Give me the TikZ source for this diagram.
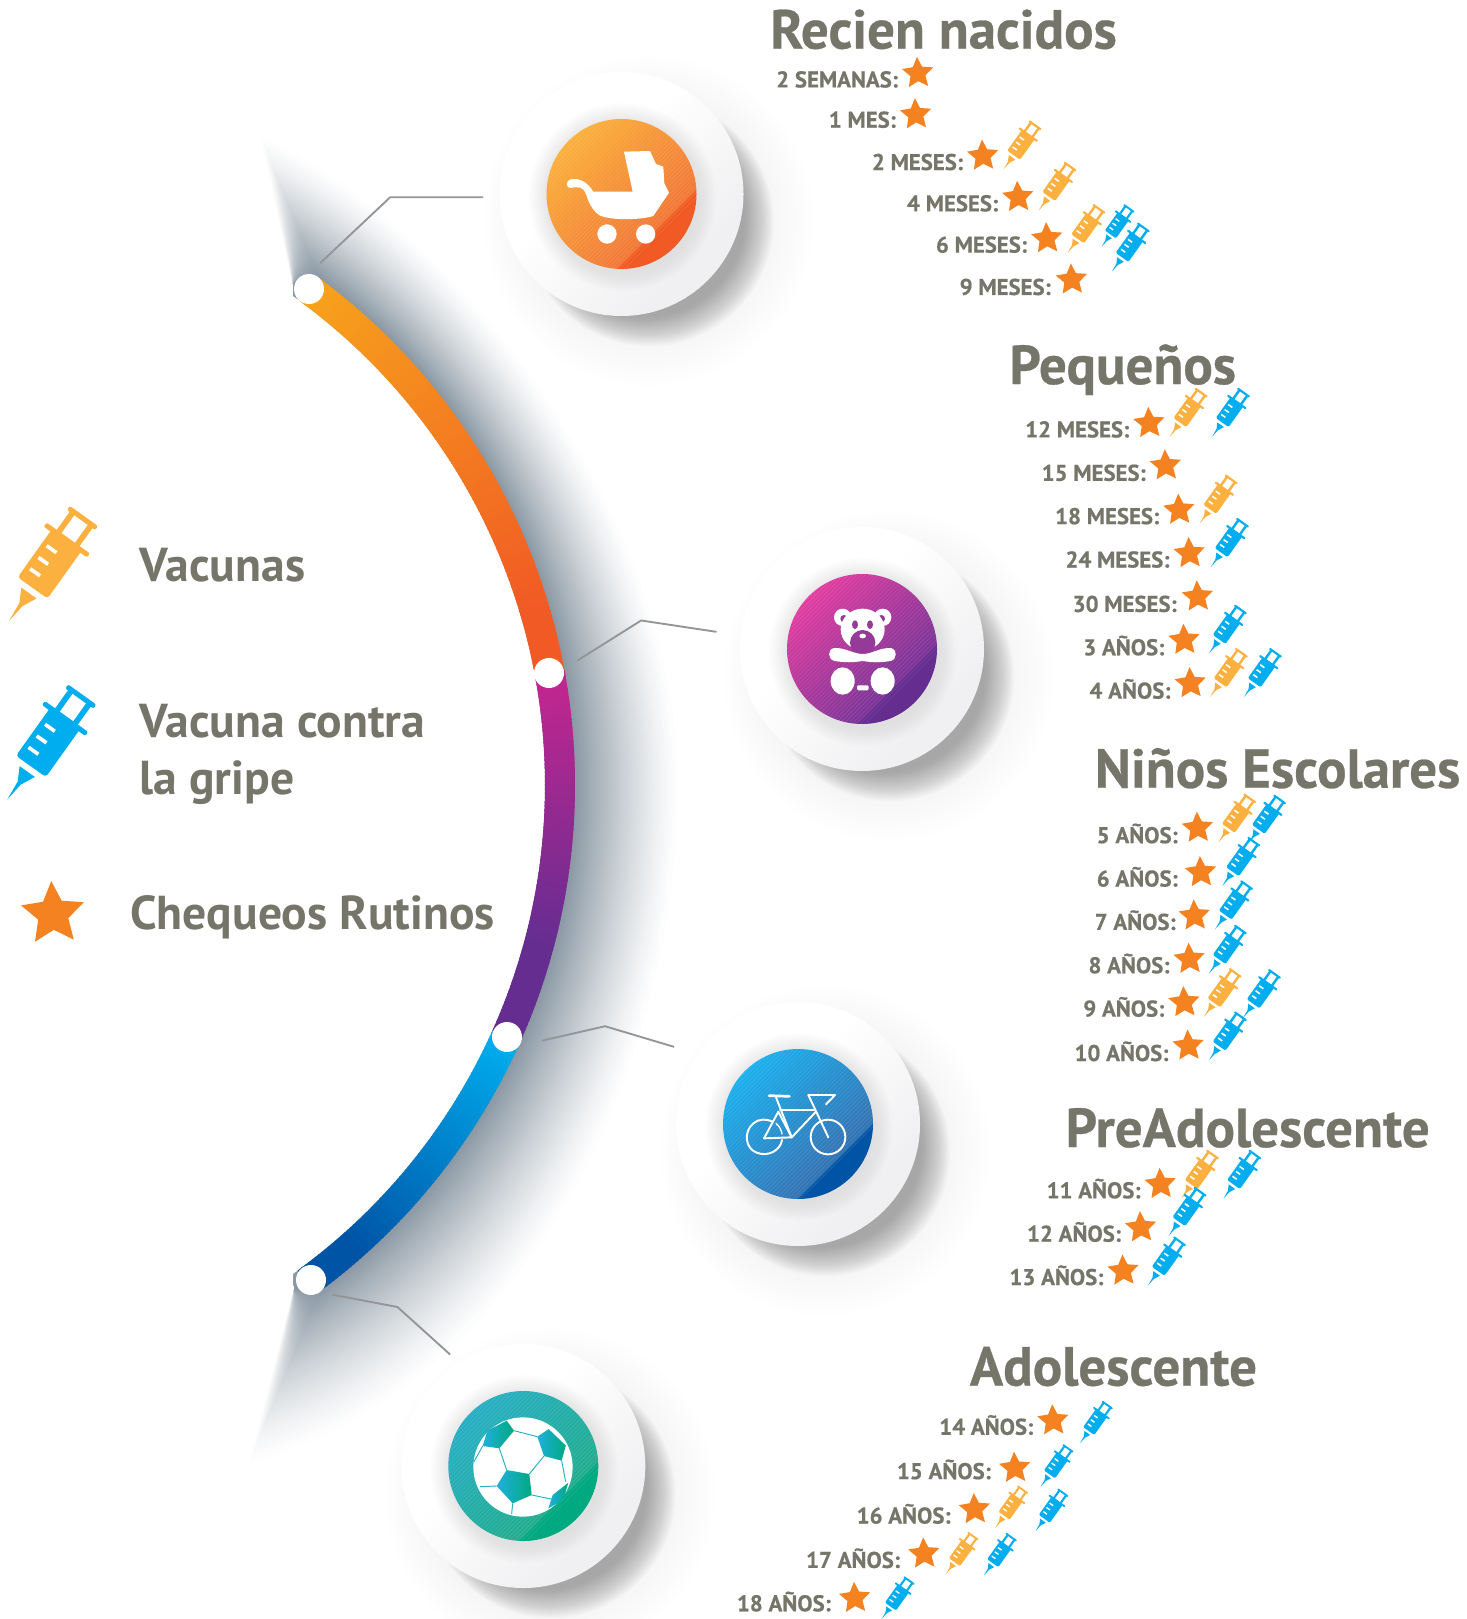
\documentclass[tikz,border=0pt]{standalone}
\usepackage{fontspec}
\setmainfont{PT Sans}
\newfontfamily\heavyf[BoldFeatures={FakeBold=0.5}]{PT Sans}
\usetikzlibrary{calc}
\definecolor{txtc}{HTML}{75756A}
\definecolor{starc}{HTML}{F58220}
\definecolor{syrO}{HTML}{FBB040}
\definecolor{syrB}{HTML}{00AEEF}
\definecolor{shadc}{HTML}{8A98A3}
\definecolor{linec}{HTML}{939598}
\definecolor{a1}{HTML}{F7A31C}\definecolor{a2}{HTML}{F15A24}
\definecolor{b1}{HTML}{C4268F}\definecolor{b2}{HTML}{662D91}
\definecolor{d1c}{HTML}{00AEEF}\definecolor{d2c}{HTML}{0054A6}
\definecolor{oA}{HTML}{FBB03B}\definecolor{oM}{HTML}{F27A38}\definecolor{oB}{HTML}{F15A24}
\definecolor{pA}{HTML}{E23DA0}\definecolor{pM}{HTML}{7C3598}\definecolor{pB}{HTML}{662D91}
\definecolor{uA}{HTML}{1CB0EE}\definecolor{uM}{HTML}{3474B4}\definecolor{uB}{HTML}{0054A6}
\definecolor{gA}{HTML}{27AFC4}\definecolor{gM}{HTML}{22AD90}\definecolor{gB}{HTML}{00A97F}
\definecolor{discE}{HTML}{F0F0F2}
\pgfdeclarehorizontalshading{shO}{100bp}{color(0bp)=(oA);color(25bp)=(oA);color(66bp)=(oM);color(67bp)=(oB);color(100bp)=(oB)}
\pgfdeclarehorizontalshading{shP}{100bp}{color(0bp)=(pA);color(25bp)=(pA);color(66bp)=(pM);color(67bp)=(pB);color(100bp)=(pB)}
\pgfdeclarehorizontalshading{shU}{100bp}{color(0bp)=(uA);color(25bp)=(uA);color(67bp)=(uM);color(68bp)=(uB);color(100bp)=(uB)}
\pgfdeclarehorizontalshading{shG}{100bp}{color(0bp)=(gA);color(25bp)=(gA);color(66bp)=(gM);color(67bp)=(gB);color(100bp)=(gB)}
\pgfdeclarehorizontalshading{shD}{100bp}{color(0bp)=(white);color(42bp)=(white);color(70bp)=(discE);color(100bp)=(discE)}
\newcounter{rn}
\tikzset{
  titlet/.style={text=txtc,inner sep=0pt,font=\fontsize{41.2}{44}\selectfont\heavyf\bfseries},
  rowt/.style={text=txtc,inner sep=0pt,font=\fontsize{17.1}{19}\selectfont\heavyf\bfseries},
  legt/.style={text=txtc,inner sep=0pt,font=\fontsize{35.7}{38}\selectfont\bfseries},
  dotn/.style={circle,fill=white,draw=none,inner sep=0pt,minimum size=22.5pt},
  callout/.style={draw=linec,line width=1.4pt,line cap=butt,line join=miter},
  ballseam/.style={draw=gA,line width=.7pt}
}
% star: x, y, outer radius in pt
\newcommand\vstar[3]{\fill[starc,shift={(#1,#2)},x=#3pt,y=#3pt,rotate=3]
 (0,1)--(.282,.388)--(.951,.309)--(.457,-.148)--(.588,-.809)--(0,-.48)--(-.588,-.809)--(-.457,-.148)--(-.951,.309)--(-.282,.388)--cycle;}
% syringe: tip x, tip y, unit in pt, colour
\newcommand\syr[4]{\begin{scope}[shift={(#1,#2)},x=#3pt,y=#3pt,rotate=-35.5]
 \fill[#4] (0,0)--(7,60)--(28,103)--(-28,103)--(-6,62)--cycle;
 \fill[#4,rounded corners={10*#3 pt}] (-55,122) rectangle (55,302);
 \fill[#4,rounded corners={6*#3 pt}] (-80,291) rectangle (80,306);
 \fill[#4] (-42,300) rectangle (-25,375);
 \fill[#4] (25,300) rectangle (42,375);
 \fill[#4,rounded corners={6*#3 pt}] (-52,372) rectangle (52,387);
 \fill[white] (-39,244) rectangle (-3,255);
 \fill[white] (-39,201) rectangle (-3,212);
 \fill[white] (-39,159) rectangle (-3,170);
\end{scope}}
\newcommand\Sy[3]{\syr{#1}{#2}{.107}{#3}}
\newcommand\Sz[3]{\syr{#1}{#2}{.093}{#3}}
% row label in reference-view pixels
\newcommand\rowl[3]{\stepcounter{rn}\node[rowt,anchor=base east] (row\arabic{rn}) at (#1,#2+7.7) {#3};}
\newcommand\st[2]{\vstar{#1}{#2}{12.3}}
% button: centre x,y, shading
\newcommand\btn[3]{%
 \foreach \i in {0,...,9}{\pgfmathsetmacro\rr{165-\i*4.5}\pgfmathsetmacro\dd{27-\i*.3}
   \fill[black!60,fill opacity=.005] ($(#1+\dd,#2+\dd)$) circle (\rr);}
 \foreach \i in {0,...,23}{\pgfmathsetmacro\rr{124-\i}\pgfmathsetmacro\dd{28-\i*.25}
   \fill[black!60,fill opacity=.028] ($(#1+\dd,#2+\dd)$) circle (\rr);}
 \shade[shading=shD,shading angle=-45] (#1,#2) circle (122);
 \foreach \i in {0,...,11}{\pgfmathsetmacro\rr{94-\i*1.6}
   \fill[black!60,fill opacity=.007] ($(#1+1,#2+3)$) circle (\rr);}
 \shade[shading=#3,shading angle=-45] (#1,#2) circle (75);
 \begin{scope}
  \clip (#1,#2) circle (75);
  \foreach \k in {-74,-71,...,55}{
   \draw[white,line width=.45pt,opacity=.11] ($(#1+\k*.707+80*.707,#2+\k*.707-80*.707)$) -- ($(#1+\k*.707-80*.707,#2+\k*.707+80*.707)$);}
 \end{scope}}
% colour band piece: first, second, last angle, start colour, end colour, fraction of the way where it ends
\newcommand\bandseg[6]{\foreach \t in {#1,#2,...,#3}{
  \pgfmathsetmacro\pp{min(100,100*(\t-#1)/((#3-#1)*#6))}
  \fill[fill=#5!\pp!#4] ({-55+600*cos(\t)},{785+600*sin(\t)}) -- ({-55+630*cos(\t)},{785+630*sin(\t)})
     -- ({-55+630*cos(\t+.6)},{785+630*sin(\t+.6)}) -- ({-55+600*cos(\t+.6)},{785+600*sin(\t+.6)}) -- cycle;}}
\begin{document}
\begin{tikzpicture}[x=.75pt,y=-.75pt]
\useasboundingbox (0,0) rectangle (1466,1619);
\fill[white] (0,0) rectangle (1466,1619);
% soft shadow of the arc
\coordinate (sL1) at (293,284); \coordinate (sL2) at (294,1290);
\foreach \i in {60,59,...,0}{
 \pgfmathsetmacro\s{\i/60}
 \pgfmathsetmacro\pc{100*(1-\s)^1.25}
 \coordinate (a1p) at ({(1-\s)*318+\s*260},{(1-\s)*277+\s*135});
 \coordinate (a2p) at ({(1-\s)*479+\s*460},{(1-\s)*395+\s*225});
 \coordinate (a3p) at ({(1-\s)*575+\s*680},{(1-\s)*585+\s*520});
 \coordinate (a4p) at ({(1-\s)*575+\s*680},785);
 \coordinate (a5p) at ({(1-\s)*575+\s*680},{(1-\s)*985+\s*1080});
 \coordinate (a6p) at ({(1-\s)*481+\s*515},{(1-\s)*1172+\s*1395});
 \coordinate (a7p) at ({(1-\s)*320+\s*248},{(1-\s)*1291+\s*1466});
 \fill[fill=shadc!\pc!white] (a1p) .. controls (a2p) and (a3p) .. (a4p) .. controls (a5p) and (a6p) .. (a7p) -- (sL2) -- (sL1) -- cycle;
}
\fill[white] (-55,785) circle (600);
% coloured arc
\bandseg{-53.7}{-53.3}{-10.5}{a1}{a2}{.85}
\bandseg{-10.5}{-10.1}{24.2}{b1}{b2}{.72}
\bandseg{24.2}{24.6}{53.5}{d1c}{d2c}{.82}
% dots
\node[dotn] (d1) at (309,289) {};
\node[dotn] (d2) at (549,673) {};
\node[dotn] (d3) at (507,1037) {};
\node[dotn] (d4) at (311,1280) {};
% callouts
\begin{scope}[x=.7743pt,y=-.7743pt]
\coordinate (c1a) at (310,255); \coordinate (c1b) at (378,191); \coordinate (c1c) at (468,191);
\coordinate (c2a) at (559,640); \coordinate (c2b) at (621,601); \coordinate (c2c) at (694,612);
\coordinate (c3a) at (525,1008); \coordinate (c3b) at (586,994); \coordinate (c3c) at (653,1014);
\coordinate (c4a) at (322,1254); \coordinate (c4b) at (385,1266); \coordinate (c4c) at (436,1312);
\end{scope}
\draw[callout] (c1a) -- (c1b) -- (c1c);
\draw[callout] (c2a) -- (c2b) -- (c2c);
\draw[callout] (c3a) -- (c3b) -- (c3c);
\draw[callout] (c4a) -- (c4b) -- (c4c);
% buttons
\btn{621.5}{194}{shO}
\btn{862}{649}{shP}
\btn{798}{1124}{shU}
\btn{523.3}{1466}{shG}
% pram
\begin{scope}[shift={(480,70)},x=.25pt,y=-.25pt]
 \fill[white] (340,365) -- (458,365) -- (432,245) -- (510,243) -- (528,282) -- (550,290) -- (553,340) -- (567,368)
   -- (520,438) .. controls (480,450) and (400,452) .. (360,437)
   .. controls (335,420) and (325,395) .. (318,372) .. controls (312,352) and (295,348) .. (272,354)
   .. controls (258,356) and (256,332) .. (272,328) .. controls (300,322) and (325,340) .. (340,365) -- cycle;
 \fill[white] (381,492) circle (29);
 \fill[white] (497,492) circle (29);
\end{scope}
% teddy
\definecolor{tedc}{HTML}{963A9A}
\begin{scope}[shift={(730,530)},x=.25pt,y=-.25pt]
 \fill[white] (338,262) circle (26); \fill[white] (458,262) circle (26);
 \fill[tedc] (342,266) circle (11); \fill[tedc] (454,266) circle (11);
 \fill[white] (398,298) ellipse (66 and 62);
 \fill[tedc] (398,338) circle (38);
 \fill[tedc] (375,284) ellipse (9 and 13); \fill[tedc] (420,284) ellipse (9 and 13);
 \fill[white] (398,318) ellipse (10 and 7);
 \fill[white] (312,354) .. controls (345,352) and (370,372) .. (398,372) .. controls (426,372) and (450,352) .. (484,354)
    .. controls (502,358) and (502,388) .. (482,393) .. controls (450,398) and (430,398) .. (398,393)
    .. controls (366,398) and (346,398) .. (314,393) .. controls (292,388) and (292,358) .. (312,354) -- cycle;
 \fill[white] (338,453) ellipse (36 and 41); \fill[white] (458,453) ellipse (36 and 41);
 \fill[white,rounded corners=1pt] (381,466) rectangle (416,481);
\end{scope}
% bicycle
\begin{scope}[shift={(690,1010)},x=.25pt,y=-.25pt,white,line width=1.45pt,line cap=round,line join=round]
 \draw (248,335) .. controls (230,326) and (205,326) .. (190,340) .. controls (160,365) and (165,415) .. (200,428)
    .. controls (235,442) and (272,420) .. (276,390);
 \draw (414,381) circle (52);
 \draw (222,385) -- (265,305) -- (305,382) -- cycle;
 \draw (258,262) -- (305,382);
 \draw (270,300) -- (375,300);
 \draw (305,382) -- (378,305);
 \draw (355,255) -- (415,382);
 \draw (355,255) -- (435,255) -- (408,283);
 \draw[line width=2pt] (237,257) -- (298,259);
 \draw[line width=1pt] (258,340) .. controls (268,348) and (274,360) .. (276,372);
\end{scope}
% football
\begin{scope}[shift={(400,1340)},x=.25pt,y=-.25pt]
 \fill[white] (369,381) circle (149);
 \draw[ballseam] (342,272) -- (412,290);
 \draw[ballseam] (298,325) -- (320,390);
 \draw[ballseam] (432,348) -- (388,402);
 \draw[ballseam] (485,362) -- (497,425);
 \draw[ballseam] (395,465) -- (458,478);
 \draw[ballseam] (338,490) -- (335,522);
 \draw[ballseam] (290,438) -- (240,440);
 \draw[ballseam] (248,318) -- (222,365);
 \draw[ballseam] (445,268) -- (497,318);
 \shade[left color=uA!60!gA,right color=gB] (248,318) -- (262,272) -- (320,242) -- (342,272) -- (298,325) -- cycle;
 \shade[left color=uA!60!gA,right color=gB] (412,290) -- (445,268) -- (497,318) -- (485,362) -- (432,348) -- cycle;
 \shade[left color=uA!60!gA,right color=gB] (290,438) -- (320,390) -- (388,402) -- (395,465) -- (338,490) -- cycle;
 \shade[left color=uA!60!gA,right color=gB] (445,505) -- (458,465) -- (505,428) -- (490,480) -- cycle;
\end{scope}
% legend
\syr{9}{621}{.25}{syrO}
\syr{7.3}{799.5}{.25}{syrB}
\vstar{53}{914}{24.75}
\begin{scope}[x=.7743pt,y=-.7743pt]
\node[legt,anchor=base west] (lega) at (135,563) {Vacunas};
\node[legt,anchor=base west] (legb) at (135,714) {Vacuna contra};
\node[legt,anchor=base west] (legc) at (135,770) {la gripe};
\node[legt,anchor=base west] (legd) at (126,900) {Chequeos Rutinos};
% titles
\node[titlet,anchor=base] (t1) at (914,47) {Recien nacidos};
\node[titlet,anchor=base] (t2) at (1087.5,372) {Pequeños};
\node[titlet,anchor=base] (t3) at (1237.5,763) {Niños Escolares};
\node[titlet,anchor=base] (t4) at (1208.5,1111) {PreAdolescente};
\node[titlet,anchor=base] (t5) at (1078.5,1342) {Adolescente};
% rows
\rowl{870}{77}{2 SEMANAS:}\st{889}{71}
\rowl{868}{116}{1 MES:}\st{887}{111}
\rowl{933}{157}{2 MESES:}\st{952}{151}\Sy{972}{164}{syrO}
\rowl{967}{197}{4 MESES:}\st{986}{191}\Sy{1006}{204}{syrO}
\rowl{995}{237}{6 MESES:}\st{1014}{231}\Sy{1034}{245}{syrO}\Sz{1067}{239}{syrB}\Sy{1077}{263}{syrB}
\rowl{1018}{278}{9 MESES:}\st{1038}{271}
\rowl{1094}{416}{12 MESES:}\st{1113}{410}\Sy{1133}{423}{syrO}\Sy{1174}{423}{syrB}
\rowl{1110}{458}{15 MESES:}\st{1129}{451}
\rowl{1123}{500}{18 MESES:}\st{1142}{494}\Sy{1162}{507}{syrO}
\rowl{1133}{542}{24 MESES:}\st{1152}{536}\Sy{1173}{549}{syrB}
\rowl{1140}{585}{30 MESES:}\st{1160}{578}
\rowl{1128}{627}{3 AÑOS:}\st{1147}{620}\Sy{1171}{633}{syrB}
\rowl{1134}{669}{4 AÑOS:}\st{1153}{662}\Sy{1172}{675}{syrO}\Sy{1205}{675}{syrB}
\rowl{1141}{809}{5 AÑOS:}\st{1160}{802}\Sy{1180}{816}{syrO}\Sy{1209}{817}{syrB}
\rowl{1141}{851}{6 AÑOS:}\st{1163}{845}\Sy{1184}{858}{syrB}
\rowl{1139}{893}{7 AÑOS:}\st{1157}{887}\Sy{1177}{900}{syrB}
\rowl{1133}{935}{8 AÑOS:}\st{1152}{929}\Sy{1171}{943}{syrB}
\rowl{1128}{977}{9 AÑOS:}\st{1147}{971}\Sy{1166}{985}{syrO}\Sy{1204}{986}{syrB}
\rowl{1132}{1020}{10 AÑOS:}\st{1151}{1013}\Sy{1171}{1027}{syrB}
\rowl{1105}{1153}{11 AÑOS:}\st{1124}{1147}\Sy{1144}{1161}{syrO}\Sy{1185}{1161}{syrB}
\rowl{1086}{1195}{12 AÑOS:}\st{1105}{1189}\Sy{1132}{1197}{syrB}
\rowl{1069}{1237}{13 AÑOS:}\st{1088}{1231}\Sy{1112}{1245}{syrB}
\rowl{1001}{1382}{14 AÑOS:}\st{1020}{1376}\Sz{1046}{1398}{syrB}
\rowl{960}{1425}{15 AÑOS:}\st{983}{1422}\Sz{1008}{1440}{syrB}
\rowl{921}{1468}{16 AÑOS:}\st{944}{1462}\Sz{964}{1480}{syrO}\Sz{1003}{1483}{syrB}
\rowl{872}{1511}{17 AÑOS:}\st{895}{1505}\Sz{916}{1525}{syrO}\Sz{953}{1526}{syrB}
\rowl{805}{1553}{18 AÑOS:}\st{828}{1548}\Sz{854}{1568}{syrB}
\end{scope}
\end{tikzpicture}
\end{document}
